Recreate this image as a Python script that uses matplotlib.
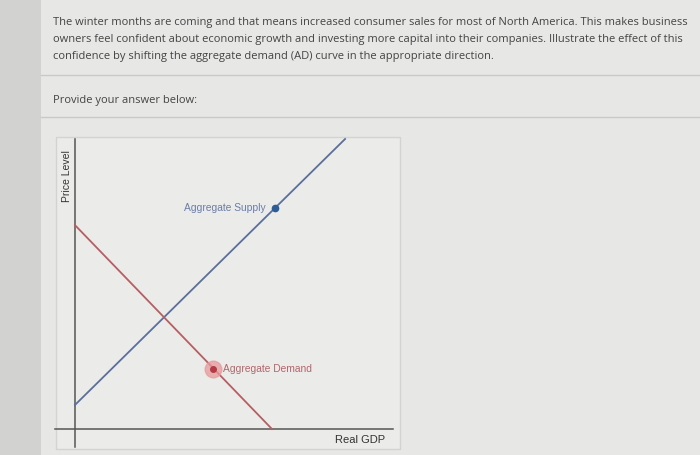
import matplotlib.pyplot as plt
from matplotlib.patches import Rectangle
from matplotlib.lines import Line2D

# question text
question = ["The winter months are coming and that means increased consumer sales for most of North America. This makes business",
            "owners feel confident about economic growth and investing more capital into their companies. Illustrate the effect of this",
            "confidence by shifting the aggregate demand (AD) curve in the appropriate direction."]
prompt = "Provide your answer below:"

# curves (x = real GDP, y = price level, arbitrary units 0..10)
as_x = [0.0, 8.31]
as_y = [0.83, 10.0]
ad_x = [0.0, 6.06]
ad_y = [7.03, 0.0]
as_point = (6.15, 7.62)
ad_point = (4.25, 2.07)
as_label = "Aggregate Supply"
ad_label = "Aggregate Demand"
xlabel = "Real GDP"
ylabel = "Price Level"

W, H = 700, 455
fig = plt.figure(figsize=(7, 4.55), dpi=100)
fig.patch.set_facecolor('#e7e7e5')

def px(x, y):
    # pixel coords (top-left origin) -> figure fraction
    return x / W, 1 - y / H

# left darker strip
fig.add_artist(Rectangle((0, 0), 41 / W, 1, transform=fig.transFigure,
                         facecolor='#d2d2d0', edgecolor='none', zorder=0))

# question lines
for i, line in enumerate(question):
    fig.text(*px(53, 22 + i * 17.5), line, fontsize=8.0, family='Open Sans',
             color='#444444', va='center', ha='left')
fig.text(*px(53, 100), prompt, fontsize=8.0, family='Open Sans',
         color='#444444', va='center', ha='left')

# separators
for yy in (75, 117):
    fig.add_artist(Line2D([41 / W, 1], [1 - yy / H, 1 - yy / H], transform=fig.transFigure,
                          color='#c9c9c7', lw=1))

# chart box
bx0, by0, bx1, by1 = 56, 137, 400, 449
fig.add_artist(Rectangle(px(bx0, by1), (bx1 - bx0) / W, (by1 - by0) / H,
                         transform=fig.transFigure, facecolor='#ebebe9',
                         edgecolor='#d3d3d1', lw=1, zorder=0))

# axes: origin at pixel (75, 429), top-right at (400, 139)
ax = fig.add_axes([75 / W, (H - 429) / H, 325 / W, 290 / H])
ax.set_xlim(0, 10)
ax.set_ylim(0, 10)
ax.axis('off')

# axis lines
ax.plot([0, 0], [-0.62, 10.0], color='#555555', lw=1.1, clip_on=False)
ax.plot([-0.62, 9.78], [0, 0], color='#555555', lw=1.1, clip_on=False)

# curves
ax.plot(as_x, as_y, color='#5b6f9c', lw=1.3, clip_on=False)
ax.plot(ad_x, ad_y, color='#b65f62', lw=1.3, clip_on=False)

# handles
ax.plot(*as_point, 'o', color='#2c5d99', ms=4.5, zorder=5)
ax.plot(*ad_point, 'o', color='#e79a9c', ms=12, alpha=0.75, zorder=4)
ax.plot(*ad_point, 'o', color='#b53a45', ms=4, zorder=5)

ax.annotate(as_label, as_point, xytext=(-7, 0), textcoords='offset points',
            ha='right', va='center', fontsize=7.4, family='Liberation Sans', color='#6b7ea6')
ax.annotate(ad_label, ad_point, xytext=(7, 0), textcoords='offset points',
            ha='left', va='center', fontsize=7.4, family='Liberation Sans', color='#b3666b')

# axis labels
fig.text(*px(385, 440), xlabel, fontsize=8, family='Liberation Sans',
         color='#333333', ha='right', va='center')
fig.text(*px(67, 176), ylabel, fontsize=7.5, family='Liberation Sans',
         color='#333333', ha='center', va='center', rotation=90)

fig.savefig('out.png', dpi=100, facecolor=fig.get_facecolor())
